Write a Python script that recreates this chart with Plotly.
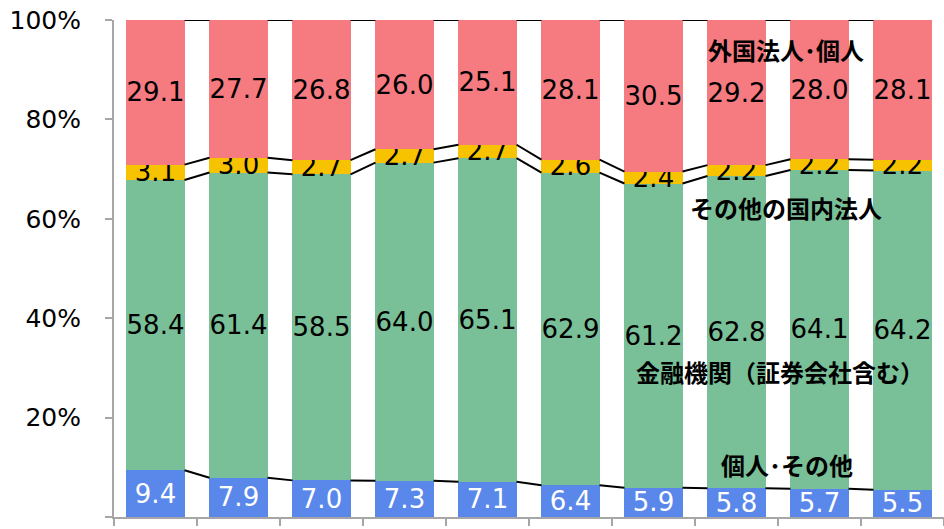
import plotly.graph_objects as go

# Data (values printed on the chart, %)
positions = list(range(10))
individuals = [9.4, 7.9, 7.0, 7.3, 7.1, 6.4, 5.9, 5.8, 5.7, 5.5]
financial = [58.4, 61.4, 58.5, 64.0, 65.1, 62.9, 61.2, 62.8, 64.1, 64.2]
other_corp = [3.1, 3.0, 2.7, 2.7, 2.7, 2.6, 2.4, 2.2, 2.2, 2.2]
foreign = [29.1, 27.7, 26.8, 26.0, 25.1, 28.1, 30.5, 29.2, 28.0, 28.1]

series_names = ["個人･その他", "金融機関（証券会社含む）", "その他の国内法人", "外国法人･個人"]
series_values = [individuals, financial, other_corp, foreign]
colors = ["#5A88EA", "#79BF97", "#F7C300", "#F67B80"]
text_colors = ["white", "black", "black", "black"]

y_ticks = [0, 20, 40, 60, 80, 100]
y_tick_labels = ["0%", "20%", "40%", "60%", "80%", "100%"]

BAR_W = 0.7
FONT = "DejaVu Sans"
CJK = "Noto Sans CJK JP"

fig = go.Figure()
for name, vals, col, tcol in zip(series_names, series_values, colors, text_colors):
    fig.add_trace(go.Bar(
        x=positions, y=vals, name=name, width=BAR_W,
        marker=dict(color=col, line=dict(width=0)),
        text=[f"{v:.1f}" for v in vals],
        textposition="inside", insidetextanchor="middle",
        textangle=0, constraintext="none",
        textfont=dict(family=FONT, size=26, color=tcol),
        hoverinfo="skip",
    ))

# connector lines between bars at cumulative (normalized) boundaries
totals = [sum(s[i] for s in series_values) for i in positions]
cum = [0.0] * len(positions)
for s in series_values:
    cum = [c + v for c, v in zip(cum, s)]
    pct = [100.0 * c / t for c, t in zip(cum, totals)]
    xs, ys = [], []
    for i in positions[:-1]:
        xs += [i + BAR_W / 2, i + 1 - BAR_W / 2, None]
        ys += [pct[i], pct[i + 1], None]
    fig.add_trace(go.Scatter(x=xs, y=ys, mode="lines",
                             line=dict(color="black", width=2),
                             showlegend=False, hoverinfo="skip", cliponaxis=False))

labels = [
    ("外国法人･個人", 7.6, 94.0),
    ("その他の国内法人", 7.6, 62.2),
    ("金融機関（証券会社含む）", 7.52, 29.2),
    ("個人･その他", 7.61, 10.5),
]
for txt, x, y in labels:
    fig.add_annotation(x=x, y=y, text=f"<b>{txt}</b>", showarrow=False,
                       font=dict(family=CJK, size=24, color="black"))

fig.update_layout(
    barmode="stack", barnorm="percent",
    width=944, height=529,
    margin=dict(l=114, r=0, t=20, b=12),
    plot_bgcolor="white", paper_bgcolor="white",
    showlegend=False,
    font=dict(family=FONT, size=24, color="black"),
)
fig.update_xaxes(range=[-0.5, 9.5], showgrid=False, zeroline=False,
                 showline=True, linecolor="#A6A6A6", linewidth=2,
                 tickmode="array", tickvals=[p - 0.5 for p in positions] + [9.5],
                 ticktext=[""] * 11, ticks="outside", ticklen=7,
                 tickcolor="#A6A6A6", tickwidth=2)
fig.update_yaxes(range=[0, 100], showgrid=False, zeroline=False,
                 showline=True, linecolor="#A6A6A6", linewidth=2,
                 tickmode="array", tickvals=y_ticks, ticktext=y_tick_labels,
                 ticks="outside", ticklen=7, tickcolor="#A6A6A6", tickwidth=2,
                 ticklabelstandoff=19,
                 tickfont=dict(family=FONT, size=25, color="black"))

fig.write_html("out.html")
